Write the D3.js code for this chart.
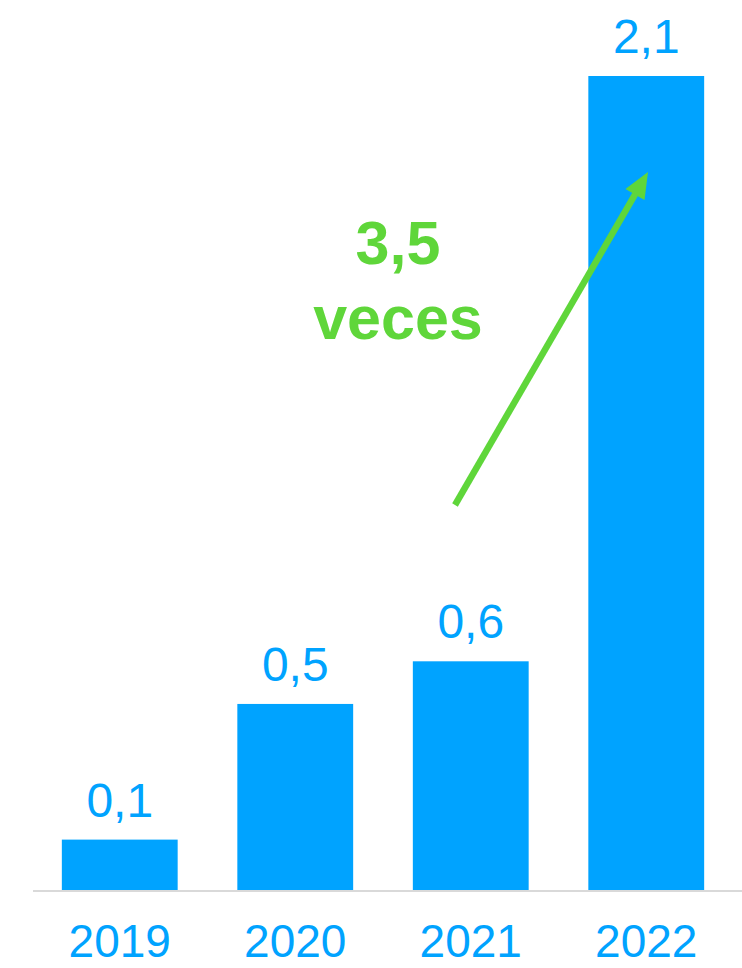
<!DOCTYPE html>
<html>
<head>
<meta charset="utf-8">
<script src="https://cdn.jsdelivr.net/npm/d3@7/dist/d3.min.js"></script>
<style>
  html, body { margin: 0; padding: 0; background: #fff; }
  svg { display: block; }
</style>
</head>
<body>
<svg id="chart" width="742" height="968"></svg>
<script>
const years = ["2019", "2020", "2021", "2022"];
const values = [0.13, 0.48, 0.59, 2.1];
const annotationLines = ["3,5", "veces"];

const W = 742, H = 968;
const baseY = 890;
const svg = d3.select("#chart");

const x = d3.scaleBand().domain(years).range([32, 734]).paddingInner(0.34).paddingOuter(0.17);
const y = d3.scaleLinear().domain([0, 2.1]).range([baseY, 76]);

const fmt = v => d3.format(".1f")(v).replace(".", ",");

const blue = "#00A3FF";
const green = "#5FD63A";

// baseline
svg.append("line")
  .attr("x1", 33).attr("x2", W).attr("y1", baseY + 1).attr("y2", baseY + 1)
  .attr("stroke", "#d9d9d9").attr("stroke-width", 2);

// bars
svg.selectAll("rect.bar").data(years).join("rect")
  .attr("class", "bar")
  .attr("x", d => x(d))
  .attr("width", x.bandwidth())
  .attr("y", (d, i) => y(values[i]))
  .attr("height", (d, i) => baseY - y(values[i]))
  .attr("fill", blue);

// value labels
svg.selectAll("text.val").data(years).join("text")
  .attr("class", "val")
  .attr("x", d => x(d) + x.bandwidth() / 2)
  .attr("y", (d, i) => y(values[i]) - 23)
  .attr("text-anchor", "middle")
  .attr("font-family", "Liberation Sans, Arial, sans-serif")
  .attr("font-size", 48)
  .attr("fill", blue)
  .text((d, i) => fmt(values[i]));

// x axis labels
svg.selectAll("text.yr").data(years).join("text")
  .attr("class", "yr")
  .attr("x", d => x(d) + x.bandwidth() / 2)
  .attr("y", 957)
  .attr("text-anchor", "middle")
  .attr("font-family", "Liberation Sans, Arial, sans-serif")
  .attr("font-size", 46)
  .attr("fill", blue)
  .text(d => d);

// arrow: from above 2021 bar toward 2022 bar
const x0 = 455, y0 = 505;
const tipX = 648, tipY = 172;
const ang = Math.atan2(tipY - y0, tipX - x0);
const headLen = 26, headHalf = 11;
const bx = tipX - headLen * Math.cos(ang), by = tipY - headLen * Math.sin(ang);
svg.append("line")
  .attr("x1", x0).attr("y1", y0)
  .attr("x2", bx + 2 * Math.cos(ang)).attr("y2", by + 2 * Math.sin(ang))
  .attr("stroke", green).attr("stroke-width", 6.5);
const px = -Math.sin(ang), py = Math.cos(ang);
svg.append("path")
  .attr("d", `M${tipX},${tipY}L${bx + px * headHalf},${by + py * headHalf}L${bx - px * headHalf},${by - py * headHalf}Z`)
  .attr("fill", green);

// annotation text
svg.selectAll("text.ann").data(annotationLines).join("text")
  .attr("class", "ann")
  .attr("x", 398)
  .attr("y", (d, i) => 264 + i * 75)
  .attr("text-anchor", "middle")
  .attr("font-family", "Liberation Sans, Arial, sans-serif")
  .attr("font-weight", "bold")
  .attr("font-size", 61)
  .attr("fill", green)
  .text(d => d);
</script>
</body>
</html>
